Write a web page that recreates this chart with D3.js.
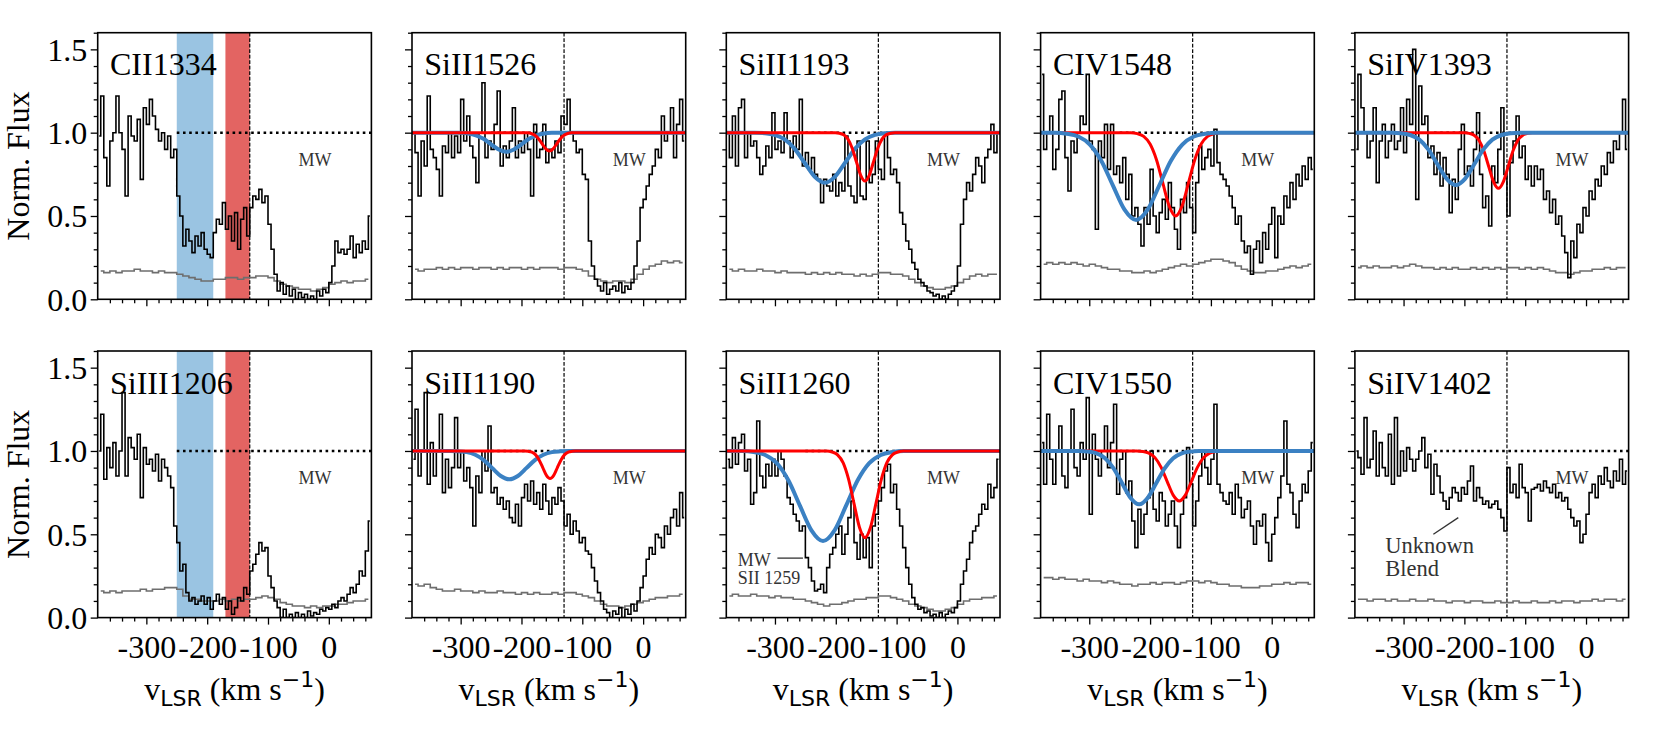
<!DOCTYPE html>
<html lang="en">
<head>
<meta charset="UTF-8">
<title>HVC absorption profiles</title>
<script src="https://d3js.org/d3.v7.min.js"></script>
<style>
    body { margin: 0; background: #fff; }
    svg text { font-family: "Liberation Serif", "Times New Roman", serif; }
</style>
</head>
<body>
<div id="chart"></div>
<script>
// velocity grids: bin centres in km/s
const fluxStart = -377.5, fluxStep = 5;
const errStart = -375, errStep = 10;

const xDomain = [-380, 70];
const yDomain = [0, 1.6];
const xMajor = [-300, -200, -100, 0];
const yMajor = [0, 0.5, 1.0, 1.5];

const bandBlue = [-250, -190];
const bandRed = [-170, -130];
const vDashed = -130;
const continuumFrom = -250;

const ions = ["CII1334", "SiII1526", "SiII1193", "CIV1548", "SiIV1393",
              "SiIII1206", "SiII1190", "SiII1260", "CIV1550", "SiIV1402"];

// normalised flux, one value per 5 km/s bin from -380 to 70
const fluxCII1334 = [
    0.98, 1.22, 0.85, 0.68, 0.95, 1.0, 1.22, 1.0, 0.9, 0.62,
    1.1, 0.98, 0.95, 1.08, 0.72, 1.15, 1.05, 1.2, 1.1, 1.02,
    0.95, 1.0, 0.9, 0.98, 0.85, 0.9, 0.62, 0.5, 0.32, 0.42,
    0.35, 0.28, 0.38, 0.32, 0.4, 0.3, 0.27, 0.25, 0.4, 0.48,
    0.45, 0.58, 0.42, 0.5, 0.35, 0.52, 0.3, 0.48, 0.55, 0.38,
    0.55, 0.62, 0.6, 0.66, 0.58, 0.62, 0.45, 0.3, 0.15, 0.05,
    0.1, 0.03, 0.08, 0.02, 0.06, 0.0, 0.04, 0.01, 0.03, 0.0,
    0.02, 0.0, 0.05, 0.02, 0.06, 0.04, 0.1, 0.2, 0.35, 0.28,
    0.3, 0.27, 0.3, 0.38, 0.25, 0.33, 0.28, 0.35, 0.3, 0.5
];
const fluxSiII1526 = [
    1.0, 0.88, 0.62, 0.95, 0.8, 1.22, 0.9, 0.85, 0.78, 0.62,
    0.92, 0.88, 1.0, 0.85, 0.98, 0.88, 1.2, 0.95, 1.1, 0.92,
    0.85, 0.7, 1.0, 1.3, 0.85, 0.95, 0.9, 1.05, 1.25, 0.8,
    0.92, 0.85, 0.95, 1.15, 0.85, 0.95, 0.88, 1.0, 0.9, 0.62,
    1.05, 0.85, 0.9, 1.05, 0.82, 0.9, 0.85, 0.95, 0.88, 1.1,
    1.05, 1.2, 1.0, 0.95, 0.88, 0.9, 0.75, 0.72, 0.35, 0.2,
    0.12, 0.08, 0.05, 0.1, 0.03, 0.06, 0.08, 0.05, 0.1, 0.04,
    0.08, 0.06, 0.1, 0.2, 0.35, 0.55, 0.6, 0.68, 0.75, 0.8,
    0.9, 0.85, 1.1, 0.95, 1.0, 1.15, 0.85, 1.05, 1.2, 0.95
];
const fluxSiII1193 = [
    1.0, 0.85, 1.1, 0.8, 1.15, 1.2, 0.85, 1.0, 0.92, 0.95,
    0.85, 0.75, 0.8, 0.92, 0.85, 1.12, 0.9, 0.95, 0.88, 1.12,
    0.95, 0.85, 0.98, 0.9, 1.2, 0.8, 0.88, 0.78, 0.85, 0.75,
    0.72, 0.58, 0.72, 0.68, 0.65, 0.75, 0.62, 0.7, 0.65, 0.98,
    0.68, 0.62, 0.58, 0.95, 0.62, 0.6, 0.95, 0.7, 0.75, 0.95,
    0.78, 0.72, 1.0, 0.85, 0.75, 0.78, 0.7, 0.52, 0.45, 0.35,
    0.3, 0.22, 0.18, 0.12, 0.1, 0.08, 0.05, 0.04, 0.02, 0.03,
    0.0, 0.02, 0.0, 0.03, 0.05, 0.08, 0.2, 0.45, 0.6, 0.7,
    0.65, 0.75, 0.85, 0.8, 0.7, 0.85, 0.9, 1.05, 0.88, 1.0
];
const fluxCIV1548 = [
    1.35, 0.9, 1.0, 1.1, 0.78, 0.9, 1.2, 1.25, 0.85, 0.65,
    0.95, 0.88, 1.0, 1.1, 1.05, 1.35, 0.95, 0.9, 0.42, 0.95,
    0.85, 1.05, 0.78, 1.05, 0.75, 0.8, 0.7, 0.85, 0.6, 0.75,
    0.5, 0.55, 0.45, 0.32, 0.55, 0.45, 0.78, 0.5, 0.4, 0.52,
    0.6, 0.48, 0.7, 0.55, 0.42, 0.3, 0.6, 0.52, 0.7, 0.55,
    0.4, 0.7, 0.92, 0.78, 0.85, 0.9, 0.8, 1.02, 0.82, 0.75,
    0.72, 0.68, 0.62, 0.55, 0.45, 0.5, 0.35, 0.28, 0.32, 0.15,
    0.3, 0.35, 0.22, 0.4, 0.3, 0.45, 0.55, 0.25, 0.5, 0.45,
    0.62, 0.55, 0.7, 0.6, 0.75, 0.68, 0.8, 0.72, 0.85, 0.78
];
const fluxSiIV1393 = [
    0.9, 1.35, 1.15, 1.0, 0.85, 0.95, 1.15, 0.7, 0.95, 1.05,
    0.85, 0.95, 1.05, 0.9, 0.95, 1.15, 0.88, 1.2, 1.05, 1.5,
    0.6, 1.28, 1.05, 1.1, 0.85, 0.92, 0.75, 0.88, 0.68, 0.85,
    0.75, 0.52, 0.72, 0.6, 0.9, 1.05, 0.75, 0.8, 0.68, 0.9,
    1.12, 0.75, 0.55, 0.62, 0.44, 0.8, 0.7, 0.9, 1.15, 0.75,
    0.5, 0.82, 0.95, 1.1, 0.85, 0.92, 0.72, 0.8, 0.68, 0.8,
    0.72, 0.78, 0.6, 0.65, 0.52, 0.6, 0.45, 0.5, 0.38, 0.28,
    0.13, 0.35, 0.25, 0.45, 0.4, 0.55, 0.5, 0.65, 0.6, 0.72,
    0.68, 0.8, 0.75, 0.88, 0.82, 0.95, 0.9, 1.0, 1.2, 0.9
];
const fluxSiIII1206 = [
    1.0, 1.22, 0.83, 1.02, 0.9, 1.05, 0.85, 1.0, 1.35, 0.85,
    1.08, 1.02, 0.95, 1.1, 0.72, 1.02, 0.92, 0.95, 0.88, 0.98,
    0.82, 0.95, 0.9, 0.85, 0.78, 0.55, 0.45, 0.28, 0.32, 0.15,
    0.1, 0.12, 0.08, 0.1, 0.13, 0.08, 0.12, 0.05, 0.1, 0.14,
    0.08, 0.12, 0.05, 0.1, 0.02, 0.06, 0.12, 0.1, 0.18, 0.14,
    0.28, 0.32, 0.38, 0.45, 0.4, 0.42, 0.25, 0.18, 0.1, 0.06,
    0.0, 0.05, 0.0, 0.02, 0.0, 0.03, 0.0, 0.02, 0.0, 0.04,
    0.01, 0.03, 0.02, 0.05, 0.04, 0.06, 0.05, 0.08, 0.06, 0.1,
    0.12, 0.1, 0.14, 0.18, 0.15, 0.2, 0.28, 0.25, 0.4, 0.58
];
const fluxSiII1190 = [
    0.95, 1.25, 0.85, 1.0, 1.35, 0.8, 1.05, 0.85, 1.0, 1.22,
    0.75, 0.95, 0.78, 0.9, 1.2, 0.9, 1.0, 0.82, 0.9, 0.78,
    0.55, 0.85, 0.75, 1.0, 0.88, 1.15, 0.75, 0.78, 0.68, 0.72,
    0.65, 0.7, 0.6, 0.57, 0.68, 0.55, 0.72, 0.8, 0.7, 0.82,
    0.68, 0.75, 0.65, 0.8, 0.7, 0.62, 0.72, 0.68, 0.78, 0.7,
    0.55, 0.62, 0.5, 0.58, 0.52, 0.45, 0.48, 0.4, 0.38, 0.3,
    0.22, 0.15, 0.1, 0.05, 0.03, 0.0, 0.04, 0.02, 0.06, 0.0,
    0.05, 0.02, 0.08, 0.04, 0.1, 0.18, 0.25, 0.35, 0.42, 0.38,
    0.5, 0.48, 0.42, 0.55, 0.5, 0.6, 0.65, 0.55, 0.75, 0.6
];
const fluxSiII1260 = [
    0.95, 0.9, 1.08, 0.92, 1.05, 1.1, 0.88, 0.95, 0.68, 0.75,
    1.18, 0.85, 0.78, 0.92, 0.85, 0.95, 0.85, 1.0, 0.95, 0.85,
    0.72, 0.68, 0.62, 0.58, 0.52, 0.55, 0.36, 0.3, 0.22, 0.16,
    0.17, 0.2, 0.15, 0.3, 0.38, 0.42, 0.5, 0.55, 0.38, 0.5,
    0.6, 0.7, 0.45, 0.35, 0.5, 0.36, 0.48, 0.3, 0.55, 0.62,
    0.7, 0.78, 0.88, 0.92, 0.75, 0.8, 0.65, 0.55, 0.42, 0.3,
    0.2, 0.12, 0.08, 0.05, 0.06, 0.03, 0.04, 0.01, 0.02, 0.0,
    0.03, 0.0, 0.02, 0.04, 0.03, 0.06, 0.1, 0.2, 0.28, 0.35,
    0.45, 0.52, 0.55, 0.62, 0.68, 0.65, 0.8, 0.72, 0.78, 0.95
];
const fluxCIV1550 = [
    1.05, 0.8, 1.22, 0.95, 0.8, 1.0, 1.15, 0.85, 0.78, 1.0,
    1.25, 0.9, 0.85, 1.05, 0.95, 1.32, 0.62, 1.1, 0.95, 0.85,
    1.0, 1.15, 0.9, 1.05, 1.28, 0.74, 0.95, 1.0, 0.75, 0.82,
    0.58, 0.42, 0.65, 0.5, 0.62, 0.72, 1.0, 0.65, 0.58, 0.75,
    0.7, 0.55, 0.62, 0.7, 0.55, 0.42, 0.62, 0.72, 1.02, 0.8,
    0.55, 0.7, 0.85, 1.0, 0.9, 0.8, 0.95, 1.28, 0.8, 0.75,
    0.7, 0.68, 0.75, 0.62, 0.8, 0.72, 0.6, 0.65, 0.7, 0.55,
    0.44, 0.58, 0.55, 0.62, 0.45, 0.34, 0.5, 0.6, 0.72, 0.85,
    1.18, 0.8, 0.75, 0.62, 0.54, 0.7, 0.8, 0.75, 0.88, 1.05
];
const fluxSiIV1402 = [
    1.0, 0.96, 0.86, 1.2, 0.9, 0.95, 1.12, 0.85, 1.05, 0.9,
    0.85, 1.1, 0.8, 1.2, 0.85, 1.0, 0.88, 1.02, 0.95, 0.88,
    0.95, 1.0, 1.08, 0.9, 0.98, 0.74, 0.92, 0.85, 0.75, 0.7,
    0.65, 0.72, 0.78, 0.75, 0.7, 0.78, 0.74, 0.82, 0.91, 0.7,
    0.78, 0.72, 0.68, 0.7, 0.66, 0.68, 0.7, 0.65, 0.6, 0.52,
    0.9, 0.75, 0.8, 0.72, 0.92, 0.78, 0.75, 0.58, 0.77, 0.78,
    0.8, 0.76, 0.82, 0.78, 0.75, 0.8, 0.72, 0.75, 0.7, 0.72,
    0.65, 0.6, 0.55, 0.58, 0.45, 0.5, 0.62, 0.75, 0.8, 0.72,
    0.85, 0.8, 0.9, 0.82, 0.78, 0.88, 0.82, 0.95, 0.8, 0.88
];

// flux error, one value per 10 km/s bin
const errCII1334 = [
    0.17, 0.16, 0.17, 0.16, 0.17, 0.17, 0.18, 0.17, 0.17,
    0.16, 0.17, 0.16, 0.16, 0.15, 0.14, 0.13, 0.12, 0.11,
    0.11, 0.12, 0.12, 0.13, 0.13, 0.12, 0.13, 0.13, 0.14,
    0.14, 0.13, 0.11, 0.09, 0.08, 0.07, 0.06, 0.06, 0.05,
    0.06, 0.07, 0.09, 0.1, 0.11, 0.1, 0.11, 0.11, 0.12
];
const errSiII1526 = [
    0.18, 0.17, 0.18, 0.18, 0.19, 0.18, 0.19, 0.18, 0.19,
    0.19, 0.18, 0.19, 0.19, 0.18, 0.19, 0.18, 0.19, 0.19,
    0.18, 0.19, 0.18, 0.19, 0.19, 0.19, 0.18, 0.19, 0.19,
    0.18, 0.17, 0.14, 0.12, 0.11, 0.1, 0.11, 0.11, 0.1,
    0.12, 0.15, 0.18, 0.2, 0.21, 0.23, 0.22, 0.23, 0.22
];
const errSiII1193 = [
    0.18, 0.17, 0.18, 0.17, 0.17, 0.18, 0.17, 0.17, 0.16,
    0.17, 0.16, 0.16, 0.16, 0.15, 0.16, 0.15, 0.16, 0.15,
    0.16, 0.15, 0.15, 0.14, 0.15, 0.14, 0.15, 0.16, 0.16,
    0.15, 0.15, 0.14, 0.12, 0.1, 0.08, 0.07, 0.06, 0.06,
    0.07, 0.08, 0.1, 0.12, 0.14, 0.15, 0.14, 0.15, 0.15
];
const errCIV1548 = [
    0.21, 0.22, 0.21, 0.22, 0.21, 0.22, 0.21, 0.2, 0.21,
    0.2, 0.19, 0.18, 0.18, 0.17, 0.17, 0.16, 0.16, 0.17,
    0.16, 0.17, 0.18, 0.19, 0.2, 0.21, 0.2, 0.21, 0.22,
    0.23, 0.24, 0.24, 0.23, 0.22, 0.2, 0.18, 0.17, 0.16,
    0.16, 0.17, 0.17, 0.18, 0.19, 0.2, 0.19, 0.2, 0.21
];
const errSiIV1393 = [
    0.19, 0.2, 0.19, 0.2, 0.19, 0.19, 0.2, 0.19, 0.2,
    0.21, 0.2, 0.19, 0.19, 0.18, 0.19, 0.18, 0.19, 0.18,
    0.18, 0.19, 0.18, 0.19, 0.18, 0.19, 0.18, 0.19, 0.19,
    0.18, 0.19, 0.18, 0.19, 0.18, 0.17, 0.16, 0.16, 0.15,
    0.16, 0.17, 0.17, 0.18, 0.18, 0.19, 0.18, 0.19, 0.19
];
const errSiIII1206 = [
    0.16, 0.15, 0.16, 0.15, 0.16, 0.16, 0.16, 0.17, 0.16,
    0.17, 0.17, 0.18, 0.18, 0.17, 0.13, 0.11, 0.11, 0.1,
    0.1, 0.1, 0.11, 0.1, 0.11, 0.1, 0.11, 0.11, 0.12,
    0.13, 0.12, 0.11, 0.09, 0.08, 0.07, 0.07, 0.06, 0.07,
    0.06, 0.07, 0.07, 0.08, 0.08, 0.09, 0.1, 0.1, 0.11
];
const errSiII1190 = [
    0.2, 0.19, 0.2, 0.18, 0.17, 0.16, 0.16, 0.17, 0.16,
    0.16, 0.15, 0.16, 0.15, 0.15, 0.16, 0.15, 0.15, 0.14,
    0.15, 0.14, 0.15, 0.14, 0.14, 0.15, 0.14, 0.15, 0.15,
    0.14, 0.13, 0.12, 0.1, 0.08, 0.07, 0.07, 0.06, 0.07,
    0.08, 0.09, 0.1, 0.11, 0.12, 0.12, 0.13, 0.13, 0.14
];
const errSiII1260 = [
    0.13, 0.14, 0.13, 0.13, 0.14, 0.13, 0.13, 0.12, 0.13,
    0.12, 0.12, 0.11, 0.11, 0.1, 0.09, 0.08, 0.07, 0.08,
    0.08, 0.09, 0.1, 0.11, 0.11, 0.12, 0.12, 0.13, 0.13,
    0.12, 0.11, 0.1, 0.08, 0.07, 0.06, 0.05, 0.04, 0.04,
    0.05, 0.06, 0.08, 0.1, 0.11, 0.11, 0.12, 0.12, 0.13
];
const errCIV1550 = [
    0.24, 0.24, 0.23, 0.24, 0.23, 0.23, 0.22, 0.23, 0.22,
    0.22, 0.21, 0.22, 0.21, 0.2, 0.2, 0.19, 0.2, 0.2,
    0.21, 0.2, 0.21, 0.21, 0.2, 0.21, 0.22, 0.22, 0.21,
    0.22, 0.21, 0.2, 0.2, 0.19, 0.19, 0.18, 0.18, 0.18,
    0.19, 0.19, 0.2, 0.2, 0.21, 0.2, 0.21, 0.21, 0.2
];
const errSiIV1402 = [
    0.11, 0.11, 0.1, 0.11, 0.11, 0.1, 0.11, 0.1, 0.1,
    0.11, 0.1, 0.1, 0.11, 0.1, 0.1, 0.09, 0.1, 0.1,
    0.09, 0.1, 0.1, 0.09, 0.09, 0.1, 0.09, 0.09, 0.1,
    0.09, 0.09, 0.1, 0.09, 0.09, 0.1, 0.09, 0.1, 0.1,
    0.09, 0.1, 0.1, 0.11, 0.1, 0.11, 0.11, 0.1, 0.11
];

// component fits: [velocity, flux]
const blueSiII1526 = [[-380,1],[-312.5,1],[-300,0.999],[-287.5,0.995],[-275,0.984],[-262.5,0.963],[-250,0.93],[-237.5,0.899],[-225,0.885],[-212.5,0.899],[-200,0.93],[-187.5,0.963],[-175,0.984],[-162.5,0.995],[-150,0.999],[-137.5,1],[70,1]];
const redSiII1526 = [[-380,1],[-196,1],[-190,0.999],[-184,0.995],[-178,0.985],[-172,0.964],[-166,0.933],[-160,0.903],[-154,0.89],[-148,0.903],[-142,0.933],[-136,0.964],[-130,0.985],[-124,0.995],[-118,0.999],[-112,1],[70,1]];
const blueSiII1193 = [[-380,1],[-333.5,1],[-317,0.997],[-300.5,0.987],[-284,0.96],[-267.5,0.903],[-251,0.818],[-234.5,0.735],[-218,0.7],[-201.5,0.735],[-185,0.818],[-168.5,0.903],[-152,0.96],[-135.5,0.987],[-119,0.997],[-102.5,1],[70,1]];
const redSiII1193 = [[-380,1],[-201,1],[-194,0.997],[-187,0.987],[-180,0.961],[-173,0.906],[-166,0.824],[-159,0.744],[-152,0.71],[-145,0.744],[-138,0.824],[-131,0.906],[-124,0.961],[-117,0.987],[-110,0.997],[-103,1],[70,1]];
const blueCIV1548 = [[-380,1],[-356,1],[-337,0.994],[-318,0.977],[-299,0.929],[-280,0.83],[-261,0.682],[-242,0.538],[-223,0.476],[-204,0.538],[-185,0.682],[-166,0.83],[-147,0.929],[-128,0.977],[-109,0.994],[-90,1],[70,1]];
const redCIV1548 = [[-380,1],[-231.5,1],[-221,0.994],[-210.5,0.978],[-200,0.932],[-189.5,0.838],[-179,0.697],[-168.5,0.559],[-158,0.5],[-147.5,0.559],[-137,0.697],[-126.5,0.838],[-116,0.932],[-105.5,0.978],[-95,0.994],[-84.5,1],[70,1]];
const blueSiIV1393 = [[-380,1],[-319,1],[-304,0.997],[-289,0.986],[-274,0.958],[-259,0.898],[-244,0.809],[-229,0.723],[-214,0.686],[-199,0.723],[-184,0.809],[-169,0.898],[-154,0.958],[-139,0.986],[-124,0.997],[-109,1],[70,1]];
const redSiIV1393 = [[-380,1],[-200,1],[-192,0.996],[-184,0.985],[-176,0.955],[-168,0.891],[-160,0.797],[-152,0.705],[-144,0.666],[-136,0.705],[-128,0.797],[-120,0.891],[-112,0.955],[-104,0.985],[-96,0.996],[-88,1],[70,1]];
const blueSiII1190 = [[-380,1],[-318,1],[-304,0.998],[-290,0.993],[-276,0.977],[-262,0.945],[-248,0.897],[-234,0.85],[-220,0.83],[-206,0.85],[-192,0.897],[-178,0.945],[-164,0.977],[-150,0.993],[-136,0.998],[-122,1],[70,1]];
const redSiII1190 = [[-380,1],[-195,1],[-189,0.998],[-183,0.993],[-177,0.978],[-171,0.946],[-165,0.9],[-159,0.854],[-153,0.835],[-147,0.854],[-141,0.9],[-135,0.946],[-129,0.978],[-123,0.993],[-117,0.998],[-111,1],[70,1]];
const blueSiII1260 = [[-380,1],[-354,1],[-335,0.994],[-316,0.976],[-297,0.927],[-278,0.824],[-259,0.672],[-240,0.524],[-221,0.46],[-202,0.524],[-183,0.672],[-164,0.824],[-145,0.927],[-126,0.976],[-107,0.994],[-88,1],[70,1]];
const redSiII1260 = [[-380,1],[-215,1],[-206,0.994],[-197,0.977],[-188,0.93],[-179,0.831],[-170,0.684],[-161,0.541],[-152,0.48],[-143,0.541],[-134,0.684],[-125,0.831],[-116,0.93],[-107,0.977],[-98,0.994],[-89,1],[70,1]];
const blueCIV1550 = [[-380,1],[-316,1],[-302,0.996],[-288,0.986],[-274,0.957],[-260,0.896],[-246,0.806],[-232,0.718],[-218,0.68],[-204,0.718],[-190,0.806],[-176,0.896],[-162,0.957],[-148,0.986],[-134,0.996],[-120,1],[70,1]];
const redCIV1550 = [[-380,1],[-222,1],[-212,0.997],[-202,0.987],[-192,0.96],[-182,0.903],[-172,0.818],[-162,0.735],[-152,0.7],[-142,0.735],[-132,0.818],[-122,0.903],[-112,0.96],[-102,0.987],[-92,0.997],[-82,1],[70,1]];

const panels = [
    { ion: ions[0], flux: fluxCII1334, err: errCII1334, bands: true },
    { ion: ions[1], flux: fluxSiII1526, err: errSiII1526, blue: blueSiII1526, red: redSiII1526 },
    { ion: ions[2], flux: fluxSiII1193, err: errSiII1193, blue: blueSiII1193, red: redSiII1193 },
    { ion: ions[3], flux: fluxCIV1548, err: errCIV1548, blue: blueCIV1548, red: redCIV1548, blueOnTop: true },
    { ion: ions[4], flux: fluxSiIV1393, err: errSiIV1393, blue: blueSiIV1393, red: redSiIV1393, blueOnTop: true },
    { ion: ions[5], flux: fluxSiIII1206, err: errSiIII1206, bands: true },
    { ion: ions[6], flux: fluxSiII1190, err: errSiII1190, blue: blueSiII1190, red: redSiII1190 },
    { ion: ions[7], flux: fluxSiII1260, err: errSiII1260, blue: blueSiII1260, red: redSiII1260, note: "sii" },
    { ion: ions[8], flux: fluxCIV1550, err: errCIV1550, blue: blueCIV1550, red: redCIV1550, blueOnTop: true },
    { ion: ions[9], flux: fluxSiIV1402, err: errSiIV1402, note: "blend" }
];

const W = 1661, H = 747;
const plotLeft = 97.7, colStep = 314.3, plotW = 273.7;
const rowTops = [32.7, 351], plotH = 266.6;

const svg = d3.select("#chart").append("svg")
    .attr("width", W)
    .attr("height", H);
svg.append("rect").attr("width", W).attr("height", H).attr("fill", "#fff");

const x = d3.scaleLinear().domain(xDomain).range([0, plotW]);
const y = d3.scaleLinear().domain(yDomain).range([plotH, 0]);

const xMinor = d3.range(-360, 70, 20).filter(v => !xMajor.includes(v));
const yMinor = d3.range(0.1, 1.65, 0.1).filter(v => Math.abs(v * 2 - Math.round(v * 2)) > 0.01);

const stepLine = d3.line().x(d => x(d[0])).y(d => y(d[1])).curve(d3.curveStep);
const fitLine = d3.line().x(d => x(d[0])).y(d => y(d[1])).curve(d3.curveMonotoneX);
const tickFmt = d => String(d);   // plain hyphen minus like the original

panels.forEach((p, k) => {
    const row = Math.floor(k / 5), col = k % 5;
    const g = svg.append("g")
        .attr("transform", `translate(${plotLeft + col * colStep},${rowTops[row]})`);

    const clipId = "clip" + k;
    g.append("clipPath").attr("id", clipId)
        .append("rect").attr("width", plotW).attr("height", plotH);
    const body = g.append("g").attr("clip-path", `url(#${clipId})`);

    if (p.bands) {
        body.append("rect")
            .attr("x", x(bandBlue[0])).attr("width", x(bandBlue[1]) - x(bandBlue[0]))
            .attr("y", 0).attr("height", plotH)
            .attr("fill", "#9ac4e2");
        body.append("rect")
            .attr("x", x(bandRed[0])).attr("width", x(bandRed[1]) - x(bandRed[0]))
            .attr("y", 0).attr("height", plotH)
            .attr("fill", "#e36462");
    }

    // zero-velocity of the cloud
    body.append("line")
        .attr("x1", x(vDashed)).attr("x2", x(vDashed))
        .attr("y1", 0).attr("y2", plotH)
        .attr("stroke", "#000").attr("stroke-width", 1.2)
        .attr("stroke-dasharray", "3.7,1.8");

    // continuum
    body.append("line")
        .attr("x1", x(continuumFrom)).attr("x2", x(xDomain[1]))
        .attr("y1", y(1)).attr("y2", y(1))
        .attr("stroke", "#000").attr("stroke-width", 2.6)
        .attr("stroke-dasharray", "2.6,3.6");

    const errPts = p.err.map((e, i) => [errStart + i * errStep, e]);
    body.append("path")
        .attr("d", stepLine(errPts))
        .attr("fill", "none").attr("stroke", "#6e6e6e").attr("stroke-width", 1.6);

    const fluxPts = p.flux.map((f, i) => [fluxStart + i * fluxStep, f]);
    body.append("path")
        .attr("d", stepLine(fluxPts))
        .attr("fill", "none").attr("stroke", "#000").attr("stroke-width", 1.6)
        .attr("stroke-linejoin", "miter");

    if (p.blue) {
        const drawBlue = () => body.append("path").attr("d", fitLine(p.blue))
            .attr("fill", "none").attr("stroke", "#3b81c3").attr("stroke-width", 4);
        const drawRed = () => body.append("path").attr("d", fitLine(p.red))
            .attr("fill", "none").attr("stroke", "#ff0000").attr("stroke-width", 3);
        if (p.blueOnTop) { drawRed(); drawBlue(); } else { drawBlue(); drawRed(); }
    }

    // Milky Way label
    g.append("text")
        .attr("x", x(-50)).attr("y", y(0.8))
        .attr("font-size", 18).attr("fill", "#333")
        .text("MW");

    if (p.note === "sii") {
        g.append("text").attr("x", x(-361)).attr("y", y(0.31))
            .attr("font-size", 18).attr("fill", "#333").text("MW");
        g.append("text").attr("x", x(-361)).attr("y", y(0.2))
            .attr("font-size", 18).attr("fill", "#333").text("SII 1259");
        g.append("line")
            .attr("x1", x(-296)).attr("x2", x(-254))
            .attr("y1", y(0.357)).attr("y2", y(0.357))
            .attr("stroke", "#333").attr("stroke-width", 1.3);
    }
    if (p.note === "blend") {
        g.append("text").attr("x", x(-330)).attr("y", y(0.39))
            .attr("font-size", 22.5).attr("fill", "#333").text("Unknown");
        g.append("text").attr("x", x(-330)).attr("y", y(0.25))
            .attr("font-size", 22.5).attr("fill", "#333").text("Blend");
        g.append("line")
            .attr("x1", x(-251)).attr("y1", y(0.5))
            .attr("x2", x(-210)).attr("y2", y(0.6))
            .attr("stroke", "#333").attr("stroke-width", 1.3);
    }

    // ion label
    g.append("text")
        .attr("x", 0.045 * plotW).attr("y", 0.16 * plotH)
        .attr("font-size", 32).attr("fill", "#000")
        .text(p.ion);

    // axes
    const styleAxis = a => {
        a.select(".domain").remove();
        a.selectAll(".tick line").attr("stroke", "#000").attr("stroke-width", 1.3);
        a.attr("font-family", null).attr("font-size", 32);
        a.selectAll("text").attr("fill", "#000");
    };

    const xa = g.append("g").attr("transform", `translate(0,${plotH})`)
        .call(d3.axisBottom(x).tickValues(xMajor).tickSize(7)
            .tickFormat(row === 1 ? tickFmt : ""))
        .call(styleAxis);
    xa.selectAll("text").attr("dy", null).attr("y", 40);
    g.append("g").attr("transform", `translate(0,${plotH})`)
        .call(d3.axisBottom(x).tickValues(xMinor).tickSize(4).tickFormat(""))
        .call(styleAxis);

    g.append("g")
        .call(d3.axisLeft(y).tickValues(yMajor).tickSize(7).tickPadding(3.4)
            .tickFormat(col === 0 ? d3.format(".1f") : ""))
        .call(styleAxis)
        .selectAll("text").attr("dy", "0.34em");
    g.append("g")
        .call(d3.axisLeft(y).tickValues(yMinor).tickSize(4).tickFormat(""))
        .call(styleAxis);

    // frame
    g.append("rect")
        .attr("width", plotW).attr("height", plotH)
        .attr("fill", "none").attr("stroke", "#000").attr("stroke-width", 1.6);

    if (col === 0) {
        g.append("text")
            .attr("transform", `translate(${29 - plotLeft},${plotH / 2}) rotate(-90)`)
            .attr("text-anchor", "middle")
            .attr("font-size", 32)
            .text("Norm. Flux");
    }

    if (row === 1) {
        const lab = g.append("text")
            .attr("x", plotW / 2).attr("y", 700 - rowTops[1])
            .attr("text-anchor", "middle")
            .attr("font-size", 32)
            .style("white-space", "pre");
        lab.append("tspan").text("v");
        lab.append("tspan").attr("font-family", "DejaVu Sans").attr("font-size", 22)
            .attr("dy", 6).text("LSR");
        lab.append("tspan").attr("dy", -6).text(" (km s");
        lab.append("tspan").attr("font-family", "DejaVu Sans").attr("font-size", 22)
            .attr("dy", -13).text("\u22121");
        lab.append("tspan").attr("dy", 13).text(")");
    }
});
</script>
</body>
</html>
